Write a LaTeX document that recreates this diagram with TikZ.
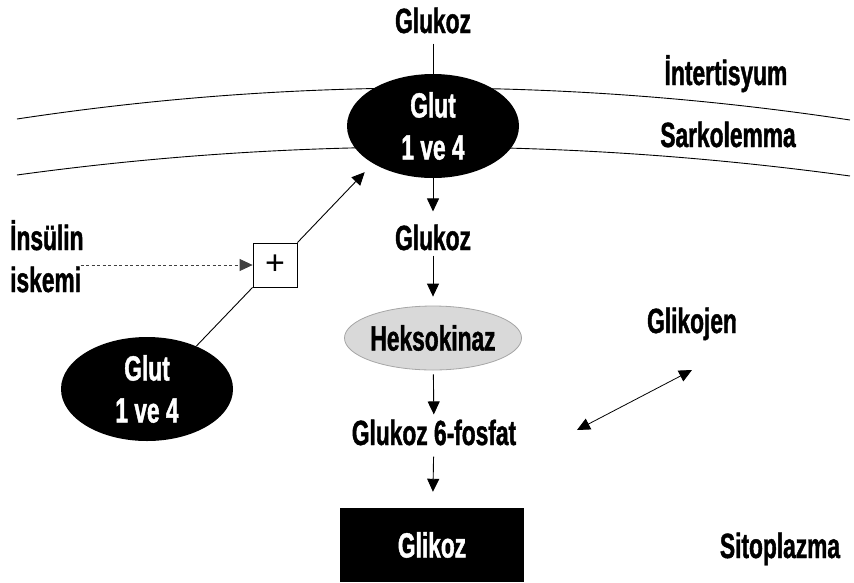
\documentclass[tikz,border=0pt]{standalone}
\usepackage{fontspec}
\setmainfont{Liberation Sans}[FakeStretch=0.65, BoldFeatures={FakeBold=1.2}]
\newfontfamily\plusfont{Liberation Sans}
\usetikzlibrary{
  arrows.meta,
  shapes.geometric,
}
\tikzset{
  >={Triangle[length=13pt,width=12pt]},
  lbl/.style={font=\fontsize{35}{42}\selectfont\bfseries, inner sep=5pt},
  glut/.style={lbl, ellipse, fill=black, text=white, align=center,
    minimum width=172pt, minimum height=104pt, inner sep=0pt},
  enzyme/.style={lbl, ellipse, fill=gray!30, draw=gray!70, line width=0.8pt,
    minimum width=170pt, minimum height=64pt, inner sep=0pt},
  product/.style={lbl, rectangle, fill=black, text=white,
    minimum width=184pt, minimum height=74pt},
  plusbox/.style={draw, line width=0.8pt, minimum size=44pt, inner sep=0pt,
    font=\plusfont\fontsize{34}{34}\selectfont},
  membrane/.style={line width=0.9pt},
  link/.style={line width=0.9pt},
  flow/.style={->, line width=0.9pt},
  signal/.style={->, line width=0.8pt, black!75, dash pattern=on 3pt off 2.5pt},
}
\begin{document}
\begin{tikzpicture}[x=1pt, y=-1pt]
      \useasboundingbox (0,0) rectangle (854,582);
      % membrane
      \draw[membrane] (17,119) .. controls (294,77) and (572,78) .. (850,120);
      \draw[membrane] (17,175) .. controls (294,137) and (572,138) .. (850,176);
      % labels
      \node[lbl, anchor=base] (glukozA) at (433,33) {Glukoz};
      \node[lbl, anchor=base] (inter) at (726,85) {İntertisyum};
      \node[lbl, anchor=base] (sarko) at (728,147) {Sarkolemma};
      \node[lbl, anchor=base] (glukozB) at (433,250) {Glukoz};
      \node[lbl, anchor=base] (g6p) at (434,445) {Glukoz 6-fosfat};
      \node[lbl, anchor=base] (glikojen) at (692,333) {Glikojen};
      \node[lbl, anchor=base] (sito) at (780,558) {Sitoplazma};
      \node[lbl, anchor=base west, align=left] (insisk) at (5,292) {İnsülin\\iskemi};
      % shapes
      \node[glut] (glutA) at (433,126) {Glut\\1 ve 4};
      \node[glut] (glutB) at (147,389) {Glut\\1 ve 4};
      \node[enzyme] (heks) at (433,338) {Heksokinaz};
      \node[product] (glikoz) at (432,545) {Glikoz};
      \node[plusbox] (plus) at (275,265) {+};
      \coordinate (gjA) at (692,370);
      \coordinate (gjB) at (577,430);
      % connectors
      \draw[link, shorten <=5pt] (glukozA) -- (glutA);
      \draw[flow, shorten >=8pt] (glutA) -- (glukozB);
      \draw[flow, shorten >=9pt] (glukozB) -- (heks);
      \draw[flow, shorten <=4pt] (heks) -- (g6p);
      \draw[flow, shorten <=6pt, shorten >=16pt] (g6p) -- (glikoz);
      \draw[signal] ([xshift=-8pt]insisk.east |- plus.west) -- (plus.west);
      \draw[flow, shorten >=12pt] (plus.north east) -- (glutA.212);
      \draw[link] (plus.south west) -- (glutB.41);
      \draw[<->, line width=0.8pt] (gjB) -- (gjA);
    \end{tikzpicture}
\end{document}
